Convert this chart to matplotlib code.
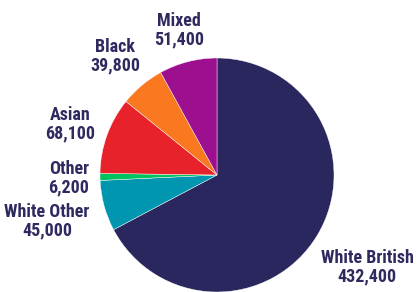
import matplotlib.pyplot as plt

groups = ["White British", "White Other", "Other", "Asian", "Black", "Mixed"]
counts = [432400, 45000, 6200, 68100, 39800, 51400]
colors = ["#2a265e", "#0096b0", "#00c25e", "#e8222a", "#f97820", "#9c0f8f"]

# label centres in pixels (x, y from top)
label_px = [(367, 267), (47, 221), (69, 178), (70, 124), (115, 56), (179, 30)]

W, H = 420, 292
cx, cy, r = 217, 175, 117

fig = plt.figure(figsize=(W / 100, H / 100), dpi=100)
ax = fig.add_axes([0, 0, 1, 1])
ax.pie(counts, colors=colors, startangle=90, counterclock=False, radius=1,
       wedgeprops=dict(edgecolor="white", linewidth=0.3))
ax.set_xlim(-cx / r, (W - cx) / r)
ax.set_ylim(-(H - cy) / r, cy / r)
ax.set_aspect("auto")
ax.axis("off")

for name, val, (px, py) in zip(groups, counts, label_px):
    ax.text((px - cx) / r, (cy - py) / r, f"{name}\n{val:,}", ha="center", va="center",
            fontsize=13, fontweight="bold", color="#2e2a60",
            family=["Roboto Condensed", "DejaVu Sans"], linespacing=1.05)

fig.savefig("out.png", dpi=100)
